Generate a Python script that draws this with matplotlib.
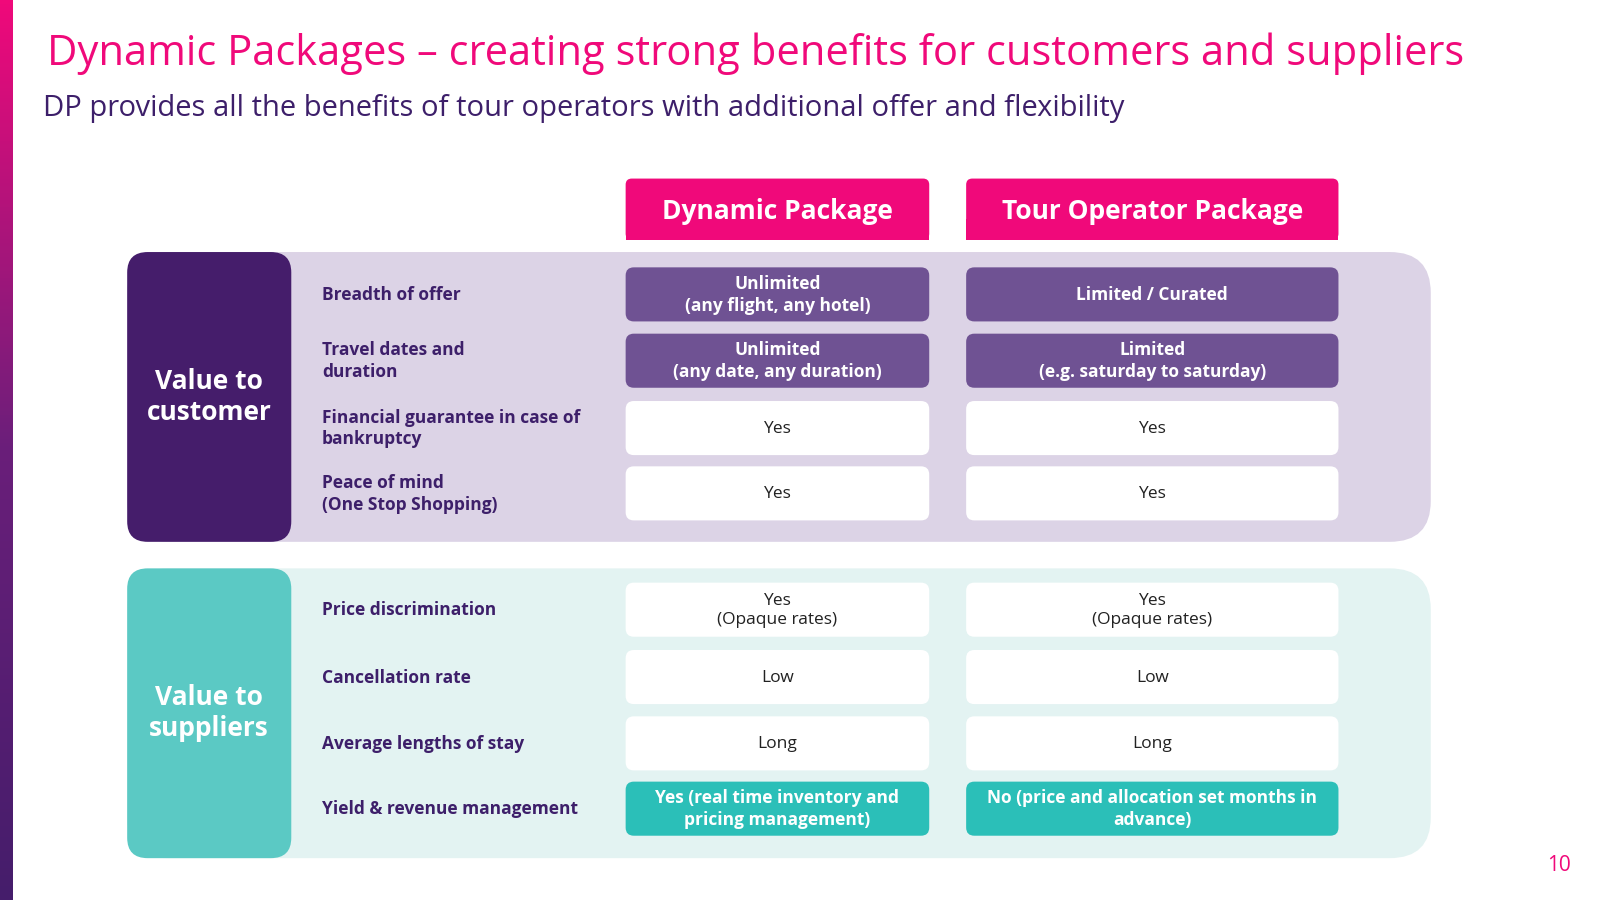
import matplotlib.pyplot as plt
from matplotlib.patches import FancyBboxPatch, Rectangle
import numpy as np

plt.rcParams["font.family"] = "Open Sans"

title = "Dynamic Packages \u2013 creating strong benefits for customers and suppliers"
subtitle = "DP provides all the benefits of tour operators with additional offer and flexibility"
columns = ["Dynamic Package", "Tour Operator Package"]

groups = ["Value to\ncustomer", "Value to\nsuppliers"]
customer_rows = ["Breadth of offer", "Travel dates and\nduration",
                 "Financial guarantee in case of\nbankruptcy", "Peace of mind\n(One Stop Shopping)"]
customer_dp = ["Unlimited\n(any flight, any hotel)", "Unlimited\n(any date, any duration)", "Yes", "Yes"]
customer_to = ["Limited / Curated", "Limited\n(e.g. saturday to saturday)", "Yes", "Yes"]
customer_hl = [True, True, False, False]

supplier_rows = ["Price discrimination", "Cancellation rate",
                 "Average lengths of stay", "Yield & revenue management"]
supplier_dp = ["Yes\n(Opaque rates)", "Low", "Long", "Yes (real time inventory and\npricing management)"]
supplier_to = ["Yes\n(Opaque rates)", "Low", "Long", "No (price and allocation set months in\nadvance)"]
supplier_hl = [False, False, False, True]

PINK = "#f0097a"
DARK = "#451d6b"
TXT = "#3d1f6a"

W, H = 1560, 882
fig = plt.figure(figsize=(16, 9), dpi=100)
ax = fig.add_axes([0, 0, 1, 1])
ax.set_xlim(0, W)
ax.set_ylim(H, 0)
ax.axis("off")

# left gradient strip
grad = np.linspace(0, 1, 256).reshape(-1, 1)
from matplotlib.colors import LinearSegmentedColormap
cmap = LinearSegmentedColormap.from_list("g", [PINK, "#6a1f7a", DARK])
ax.imshow(grad, cmap=cmap, extent=[0, 12, H, 0], aspect="auto")

ax.text(46, 53, title, color=PINK, fontsize=30, va="center")
ax.text(42, 106, subtitle, color=TXT, fontsize=21, va="center")

def box(x0, y0, w, h, fc, r=8):
    ax.add_patch(FancyBboxPatch((x0 + r, y0 + r), w - 2 * r, h - 2 * r,
                                boxstyle=f"round,pad={r}", fc=fc, ec="none",
                                mutation_aspect=1))

colx = [(610, 296), (942, 363)]
for (x0, w), name in zip(colx, columns):
    box(x0, 175, w, 60, PINK, r=6)
    ax.add_patch(Rectangle((x0, 215), w, 20, fc=PINK, ec="none"))
    ax.text(x0 + w / 2, 207, name, color="white", fontsize=19, fontweight="bold",
            ha="center", va="center")

sections = [
    (247, "#dcd3e6", DARK, groups[0], customer_rows, customer_dp, customer_to, customer_hl, "#6f5293", [289, 354, 420, 484]),
    (557, "#e3f3f2", "#5bc9c4", groups[1], supplier_rows, supplier_dp, supplier_to, supplier_hl, "#2bbfb8", [598, 664, 729, 793]),
]
for y0, panel, side, gname, rows, dp, to, hl, hlc, ys in sections:
    box(124, y0, 1271, 284, panel, r=40)
    box(124, y0, 160, 284, side, r=20)
    ax.text(204, y0 + 142, gname, color="white", fontsize=19, fontweight="bold",
            ha="center", va="center", linespacing=1.2)
    for lab, a, b, h, yc in zip(rows, dp, to, hl, ys):
        ax.text(314, yc, lab, color=TXT, fontsize=12.5, fontweight="bold",
                va="center", linespacing=1.25)
        for (x0, w), val in zip(colx, [a, b]):
            box(x0, yc - 27, w, 53, hlc if h else "white", r=8)
            ax.text(x0 + w / 2, yc, val, color="white" if h else "#222222",
                    fontsize=12.5, fontweight="bold" if h else "normal",
                    ha="center", va="center", linespacing=1.25)

ax.text(1520, 848, "10", color=PINK, fontsize=15, ha="center", va="center")

fig.savefig("out.png", dpi=100)
